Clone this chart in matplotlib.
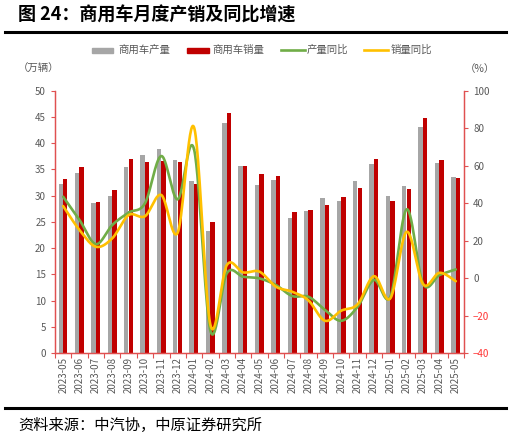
import numpy as np
import matplotlib
matplotlib.use("Agg")
import matplotlib.pyplot as plt
from matplotlib.lines import Line2D
from matplotlib.patches import Rectangle

plt.rcParams['font.family'] = ['Noto Sans CJK SC', 'DejaVu Sans']

# data
months = ['2023-05', '2023-06', '2023-07', '2023-08', '2023-09', '2023-10', '2023-11',
          '2023-12', '2024-01', '2024-02', '2024-03', '2024-04', '2024-05', '2024-06',
          '2024-07', '2024-08', '2024-09', '2024-10', '2024-11', '2024-12', '2025-01',
          '2025-02', '2025-03', '2025-04', '2025-05']
production = [32.2, 34.3, 28.5, 30.0, 35.4, 37.7, 38.8, 36.7, 32.7, 23.3, 43.8, 35.7, 32.0,
              33.0, 25.7, 27.1, 29.5, 29.0, 32.7, 36.0, 29.9, 31.8, 43.1, 36.2, 33.5]
sales = [33.1, 35.4, 28.7, 31.0, 37.0, 36.4, 36.5, 36.4, 32.3, 25.0, 45.8, 35.7, 34.1,
         33.7, 26.8, 27.2, 28.3, 29.8, 31.5, 36.9, 29.0, 31.3, 44.7, 36.7, 33.4]
prod_yoy = [43.4, 31.0, 18.1, 28.3, 34.9, 39.9, 65.1, 42.0, 68.7, -28.1, 2.5, 0.7, -0.2,
            -3.7, -9.6, -10.0, -17.0, -22.8, -15.3, -1.0, -10.0, 36.7, -3.0, 1.6, 4.6]
sales_yoy = [38.4, 25.6, 16.7, 21.2, 33.6, 33.0, 44.3, 24.2, 80.4, -25.0, 6.9, 3.0, 3.4,
             -4.6, -7.3, -12.0, -22.8, -17.4, -14.0, 1.0, -10.8, 24.7, -3.3, 2.8, -1.7]
legend_labels = ['商用车产量', '商用车销量', '产量同比', '销量同比']

GRAY = '#A6A6A6'
RED = '#C00000'
GREEN = '#70AD47'
YELLOW = '#FFC000'
AXRED = '#E05050'
TXT = '#595959'


def smooth(xs, ys, n=30):
    # catmull-rom curve, like excel's smoothed line
    xs = np.asarray(xs, float)
    ys = np.asarray(ys, float)
    px = np.concatenate([[xs[0]], xs, [xs[-1]]])
    py = np.concatenate([[ys[0]], ys, [ys[-1]]])
    outx, outy = [], []
    t = np.linspace(0, 1, n)
    for i in range(1, len(px) - 2):
        for p, out in ((px, outx), (py, outy)):
            p0, p1, p2, p3 = p[i - 1], p[i], p[i + 1], p[i + 2]
            out.extend(0.5 * (2 * p1 + (-p0 + p2) * t + (2 * p0 - 5 * p1 + 4 * p2 - p3) * t ** 2
                              + (-p0 + 3 * p1 - 3 * p2 + p3) * t ** 3))
    return outx, outy


W, H = 511, 440
fig = plt.figure(figsize=(W / 100, H / 100), dpi=100)
ax = fig.add_axes([0.1076, 0.1977, 0.8004, 0.5963])
ax2 = ax.twinx()

x = np.arange(len(months))
w = 0.27
ax.bar(x - 0.15, production, w, color=GRAY, zorder=2)
ax.bar(x + 0.13, sales, w, color=RED, zorder=2)

sx, sy = smooth(x, prod_yoy)
ax2.plot(sx, sy, color=GREEN, lw=1.9, solid_capstyle='round')
sx, sy = smooth(x, sales_yoy)
ax2.plot(sx, sy, color=YELLOW, lw=1.9, solid_capstyle='round')

ax.set_xlim(-0.5, len(months) - 0.5)
ax.set_ylim(0, 50)
ax.set_yticks(np.arange(0, 51, 5))
ax2.set_ylim(-40, 100)
ax2.set_yticks(np.arange(-40, 101, 20))

ax.set_xticks(x)
ax.set_xticklabels(months, rotation=90, fontsize=7, color=TXT)
ax.set_xticks(np.arange(-0.5, len(months), 1), minor=True)
ax.tick_params(axis='x', which='major', length=0, pad=3)
ax.tick_params(axis='x', which='minor', length=3.5, color=AXRED, width=0.8)
ax.tick_params(axis='y', labelsize=7, labelcolor=TXT, color=AXRED, length=3, width=0.8)
ax2.tick_params(axis='y', labelsize=7, labelcolor=TXT, color=AXRED, length=3, width=0.8)
for lab, v in zip(ax2.get_yticklabels(), ax2.get_yticks()):
    if v < 0:
        lab.set_color('#FF3333')

for a in (ax, ax2):
    a.spines['top'].set_visible(False)
    for s in ('left', 'right', 'bottom'):
        a.spines[s].set_color(AXRED)
        a.spines[s].set_linewidth(0.9)

# title and frame lines
fig.text(18 / W, 1 - 15 / H, '图 24：商用车月度产销及同比增速', fontsize=13, fontweight='bold',
         va='center', ha='left', color='black')
fig.add_artist(Line2D([0.01, 0.99], [0.927, 0.927], color='black', lw=2.2))
fig.add_artist(Line2D([0.01, 0.99], [0.072, 0.072], color='black', lw=2.2))
fig.text(18 / W, 1 - 425 / H, '资料来源：中汽协，中原证券研究所', fontsize=11, va='center', ha='left')

fig.text(18 / W, 1 - 69 / H, '（万辆）', fontsize=7.5, color=TXT, va='center', ha='left')
fig.text(495 / W, 1 - 69 / H, '（%）', fontsize=7.5, color=TXT, va='center', ha='right')

# legend, laid out by hand (pixel positions from the reference)
ly = 1 - 50 / H
keys = [('bar', GRAY, 92, 113, 118), ('bar', RED, 187, 209, 212),
        ('line', GREEN, 281, 305, 307), ('line', YELLOW, 364, 388, 391)]
for (kind, col, x0, x1, tx), lab in zip(keys, legend_labels):
    if kind == 'bar':
        fig.add_artist(Rectangle((x0 / W, ly - 2.5 / H), (x1 - x0) / W, 5 / H,
                                 color=col, transform=fig.transFigure))
    else:
        fig.add_artist(Line2D([x0 / W, x1 / W], [ly, ly], color=col, lw=1.9))
    fig.text(tx / W, ly, lab, fontsize=7.5, color=TXT, va='center', ha='left')

fig.savefig('out.png', dpi=100)
